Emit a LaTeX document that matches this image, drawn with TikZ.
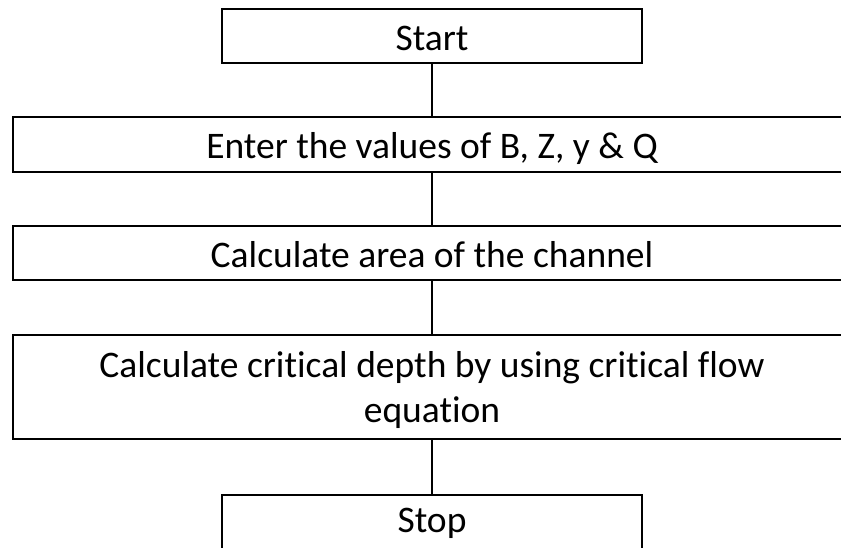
\documentclass[tikz,border=0pt]{standalone}
\usepackage{fontspec}
\setmainfont{Carlito}[Ligatures=NoCommon]
\begin{document}
\begin{tikzpicture}[x=1pt,y=-1pt,
  box/.style={draw=black,line width=2.8pt,rectangle,inner sep=0pt,anchor=center},
  lbl/.style={anchor=base,inner sep=0pt,font=\fontsize{37.5}{45}\selectfont},
  conn/.style={draw=black,line width=2.8pt}]
\useasboundingbox[fill=white] (0,0) rectangle (841,547);
\node[box,minimum width=420pt,minimum height=54pt] (start) at (432,36) {};
\node[box,minimum width=838pt,minimum height=55pt] (enter) at (432,144.5) {};
\node[box,minimum width=838pt,minimum height=54pt] (area) at (432,253) {};
\node[box,minimum width=838pt,minimum height=104pt] (depth) at (432,387) {};
\node[box,minimum width=420pt,minimum height=54pt] (stop) at (432,522) {};
\node[lbl] (tstart) at (432,50) {Start};
\node[lbl] (tenter) at (432,158) {Enter the values of B, Z, y \& Q};
\node[lbl] (tarea) at (432,267) {Calculate area of the channel};
\node[lbl] (tdepth1) at (432,377) {Calculate critical depth by using critical flow};
\node[lbl] (tdepth2) at (432,422) {equation};
\node[lbl] (tstop) at (432,532) {Stop};
\draw[conn] (start.south) -- (enter.north);
\draw[conn] (enter.south) -- (area.north);
\draw[conn] (area.south) -- (depth.north);
\draw[conn] (depth.south) -- (stop.north);
\end{tikzpicture}
\end{document}
